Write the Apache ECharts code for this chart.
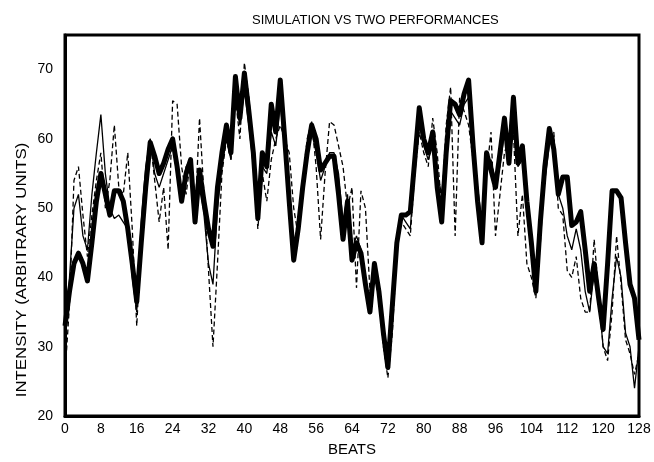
<!DOCTYPE html>
<html>
<head>
<meta charset="utf-8">
<script src="https://cdn.jsdelivr.net/npm/echarts@6/dist/echarts.min.js"></script>
<style>
  html, body { margin: 0; padding: 0; background: #fff; }
  #main { width: 654px; height: 462px; }
</style>
</head>
<body>
<div id="main"></div>
<script>
// beats 0..128, one value per beat
const beats = [];
for (let b = 0; b <= 128; b++) beats.push(b);

const simulation = [
  33, 38, 42, 43.5, 42, 39.5, 45, 51, 55, 52,
  49, 52.5, 52.5, 51, 47, 42, 36.5, 45, 53, 59.5,
  57.5, 55, 56.5, 58.5, 60, 56, 51, 55, 57, 48,
  55.5, 51, 47, 44.5, 53, 58, 62, 58, 69, 63,
  69.5, 64, 58, 48.5, 58, 56, 65, 61, 68.5, 60,
  51, 42.5, 47, 53, 58, 62, 60, 55.5, 56.5, 57.5,
  57.5, 52, 45.5, 51, 42.5, 45, 43.5, 39, 35, 42,
  38, 32, 27, 36, 45, 49, 49, 49.5, 57, 64.5,
  60, 58, 61, 53, 48, 58, 65.5, 65, 63.5, 66.5,
  68.5, 59, 51, 45, 58, 55.5, 53, 58, 63, 56.5,
  66, 56.5, 59, 51, 45, 38, 48, 56, 61.5, 58.5,
  52, 54.5, 54.5, 47.5, 48, 49.5, 44, 38, 42, 37,
  32.5, 42, 52.5, 52.5, 51.5, 45, 39, 37, 31
];

const performanceA = [
  32, 40, 50, 52, 46, 44, 52, 58, 63.5, 55,
  50, 48.5, 49, 48, 47, 40, 35, 48, 56, 60,
  55, 53, 55, 57, 59, 55, 52, 56, 57, 49,
  53, 49, 42, 39, 50, 56, 60, 57, 66, 62,
  67, 62, 56, 49, 56, 55, 61, 59, 65, 59,
  52, 44, 48, 54, 58, 61, 58, 54, 56, 58,
  58, 55, 48, 52, 44, 46, 44, 38, 36, 41,
  37, 31, 28, 36, 46, 49, 48, 47, 56, 62,
  59, 57, 59, 55, 52, 59, 64, 63, 62, 65,
  66, 60, 53, 48, 56, 57, 54, 56, 61, 58,
  63, 56, 57, 50, 45, 39, 47, 54, 59, 60.5,
  52, 50, 46, 44, 47, 44, 38, 35, 41, 37,
  30, 29, 37, 43, 40, 32, 30, 24, 30
];

const performanceB = [
  26, 36, 54, 56, 49, 43, 49, 54, 58, 50,
  54, 62, 53, 52, 58, 47, 33, 46, 55, 60,
  54, 48, 53, 44, 65.5, 65, 56, 52, 57, 49,
  63, 52, 41, 30, 42, 55, 60, 57, 66, 60,
  71, 66, 58, 47, 55, 51, 57, 60, 62, 60,
  58, 50, 46, 54, 60, 62.5, 56, 45.5, 55, 62.5,
  62, 59, 56, 50, 53, 38.5, 52.5, 50, 38, 42,
  37, 30, 25.5, 32, 44, 48, 47, 46, 55, 61,
  58, 56, 63, 58, 50, 62, 67.5, 46, 66, 64,
  62, 57, 52, 46, 55, 61, 46, 52, 58, 60,
  61, 46, 52, 42, 40, 37, 45, 55, 60, 61,
  50, 49, 41, 40, 43, 37, 35, 35, 45.5, 38,
  30, 28, 35, 46, 39, 31, 29, 26, 29
];

const xTicks = [0, 8, 16, 24, 32, 40, 48, 56, 64, 72, 80, 88, 96, 104, 112, 120, 128];

function pairs(vals) {
  return beats.map((b, i) => [b, vals[i]]);
}

const chart = echarts.init(document.getElementById('main'));
const font = 'Liberation Sans';

const option = {
  backgroundColor: '#fff',
  animation: false,
  title: {
    text: 'SIMULATION VS TWO PERFORMANCES',
    left: 247,
    top: 9,
    textStyle: { fontFamily: font, fontSize: 13, fontWeight: 'normal', color: '#000' }
  },
  grid: {
    left: 65, right: 15, top: 35, bottom: 41,
    show: true,
    borderColor: '#000',
    borderWidth: 3
  },
  xAxis: {
    type: 'value',
    min: 0, max: 128, interval: 8,
    name: 'BEATS',
    nameLocation: 'middle',
    nameGap: 26,
    nameTextStyle: { fontFamily: font, fontSize: 15, color: '#000' },
    axisLine: { show: true, lineStyle: { color: '#000', width: 3 } },
    axisTick: { show: false },
    splitLine: { show: false },
    axisLabel: {
      margin: 6, fontFamily: font, fontSize: 14, color: '#000',
      customValues: xTicks
    }
  },
  yAxis: {
    type: 'value',
    min: 20, max: 75, interval: 10,
    axisLine: { show: true, lineStyle: { color: '#000', width: 3 } },
    axisTick: { show: false },
    splitLine: { show: false },
    axisLabel: {
      margin: 12, fontFamily: font, fontSize: 14, color: '#000',
      showMaxLabel: false
    }
  },
  graphic: [{
    type: 'text',
    x: 22, y: 270,
    rotation: Math.PI / 2,
    scaleX: 1.12,
    style: {
      text: 'INTENSITY (ARBITRARY UNITS)',
      fontFamily: font, fontSize: 15, fill: '#000',
      textAlign: 'center', textVerticalAlign: 'middle'
    }
  }],
  series: [
    {
      name: 'Performance 2', type: 'line', data: pairs(performanceB),
      showSymbol: false,
      lineStyle: { color: '#000', width: 1.3, type: [5, 3] }
    },
    {
      name: 'Performance 1', type: 'line', data: pairs(performanceA),
      showSymbol: false,
      lineStyle: { color: '#000', width: 1.3 }
    },
    {
      name: 'Simulation', type: 'line', data: pairs(simulation),
      showSymbol: false,
      lineStyle: { color: '#000', width: 5, join: 'round' }
    }
  ]
};

chart.setOption(option);
</script>
</body>
</html>
